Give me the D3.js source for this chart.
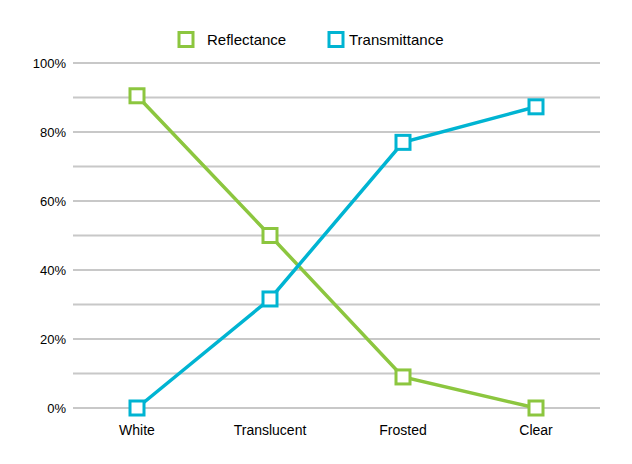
<!DOCTYPE html>
<html><head><meta charset="utf-8">
<script src="https://cdn.jsdelivr.net/npm/d3@7"></script>
<style>body{margin:0;background:#fff}svg{display:block;font-family:"Liberation Sans",Arial,sans-serif}</style>
</head><body><svg id="c" width="632" height="464"></svg>
<script>
const categories = ["White","Translucent","Frosted","Clear"];
const reflectance = [90.5, 50, 9, 0];
const transmittance = [0, 31.6, 77, 87.3];
const seriesNames = ["Reflectance","Transmittance"];
const seriesColors = ["#8cc63f","#00b4d2"];
const yTicks = [0,20,40,60,80,100];
const yGrid = d3.range(0,101,10);

const svg = d3.select("#c");
const x = d3.scaleBand().domain(categories).range([70.5,602.5]);
const y = d3.scaleLinear().domain([0,100]).range([408,63]);
const cx = c => x(c) + x.bandwidth()/2;

// gridlines
svg.append("g").selectAll("line").data(yGrid).join("line")
  .attr("x1",73).attr("x2",600)
  .attr("y1",d=>y(d)).attr("y2",d=>y(d))
  .attr("stroke","#c8c8c8").attr("stroke-width",2);

// y axis labels
const yAxis = d3.axisLeft(y).tickValues(yTicks).tickFormat(d=>d+"%").tickSize(0).tickPadding(0);
const ya = svg.append("g").attr("transform","translate(66,0)").call(yAxis);
ya.select(".domain").remove();
ya.selectAll("text").attr("font-size",13).attr("fill","#000").attr("font-family","Liberation Sans, Arial, sans-serif");

// x axis labels
const xAxis = d3.axisBottom(x).tickSize(0).tickPadding(0);
const xa = svg.append("g").attr("transform","translate(0,425)").call(xAxis);
xa.select(".domain").remove();
xa.selectAll("text").attr("font-size",14).attr("fill","#000").attr("font-family","Liberation Sans, Arial, sans-serif");

const data = [reflectance, transmittance];
const line = d3.line().x((d,i)=>cx(categories[i])).y(d=>y(d));
data.forEach((vals,si)=>{
  svg.append("path").datum(vals).attr("d",line)
    .attr("fill","none").attr("stroke",seriesColors[si]).attr("stroke-width",3.5);
});
data.forEach((vals,si)=>{
  svg.append("g").selectAll("rect").data(vals).join("rect")
    .attr("x",(d,i)=>cx(categories[i])-7).attr("y",d=>y(d)-7)
    .attr("width",14).attr("height",14)
    .attr("fill","#fff").attr("stroke",seriesColors[si]).attr("stroke-width",3);
});

// legend
const legendX = [186, 336];
const legendTextX = [207, 349];
seriesNames.forEach((n,i)=>{
  svg.append("rect").attr("x",legendX[i]-7).attr("y",32.5).attr("width",14).attr("height",14)
    .attr("fill","#fff").attr("stroke",seriesColors[i]).attr("stroke-width",3);
  svg.append("text").attr("x",legendTextX[i]).attr("y",44.5).attr("font-size",15).attr("fill","#000").text(n);
});
</script></body></html>
